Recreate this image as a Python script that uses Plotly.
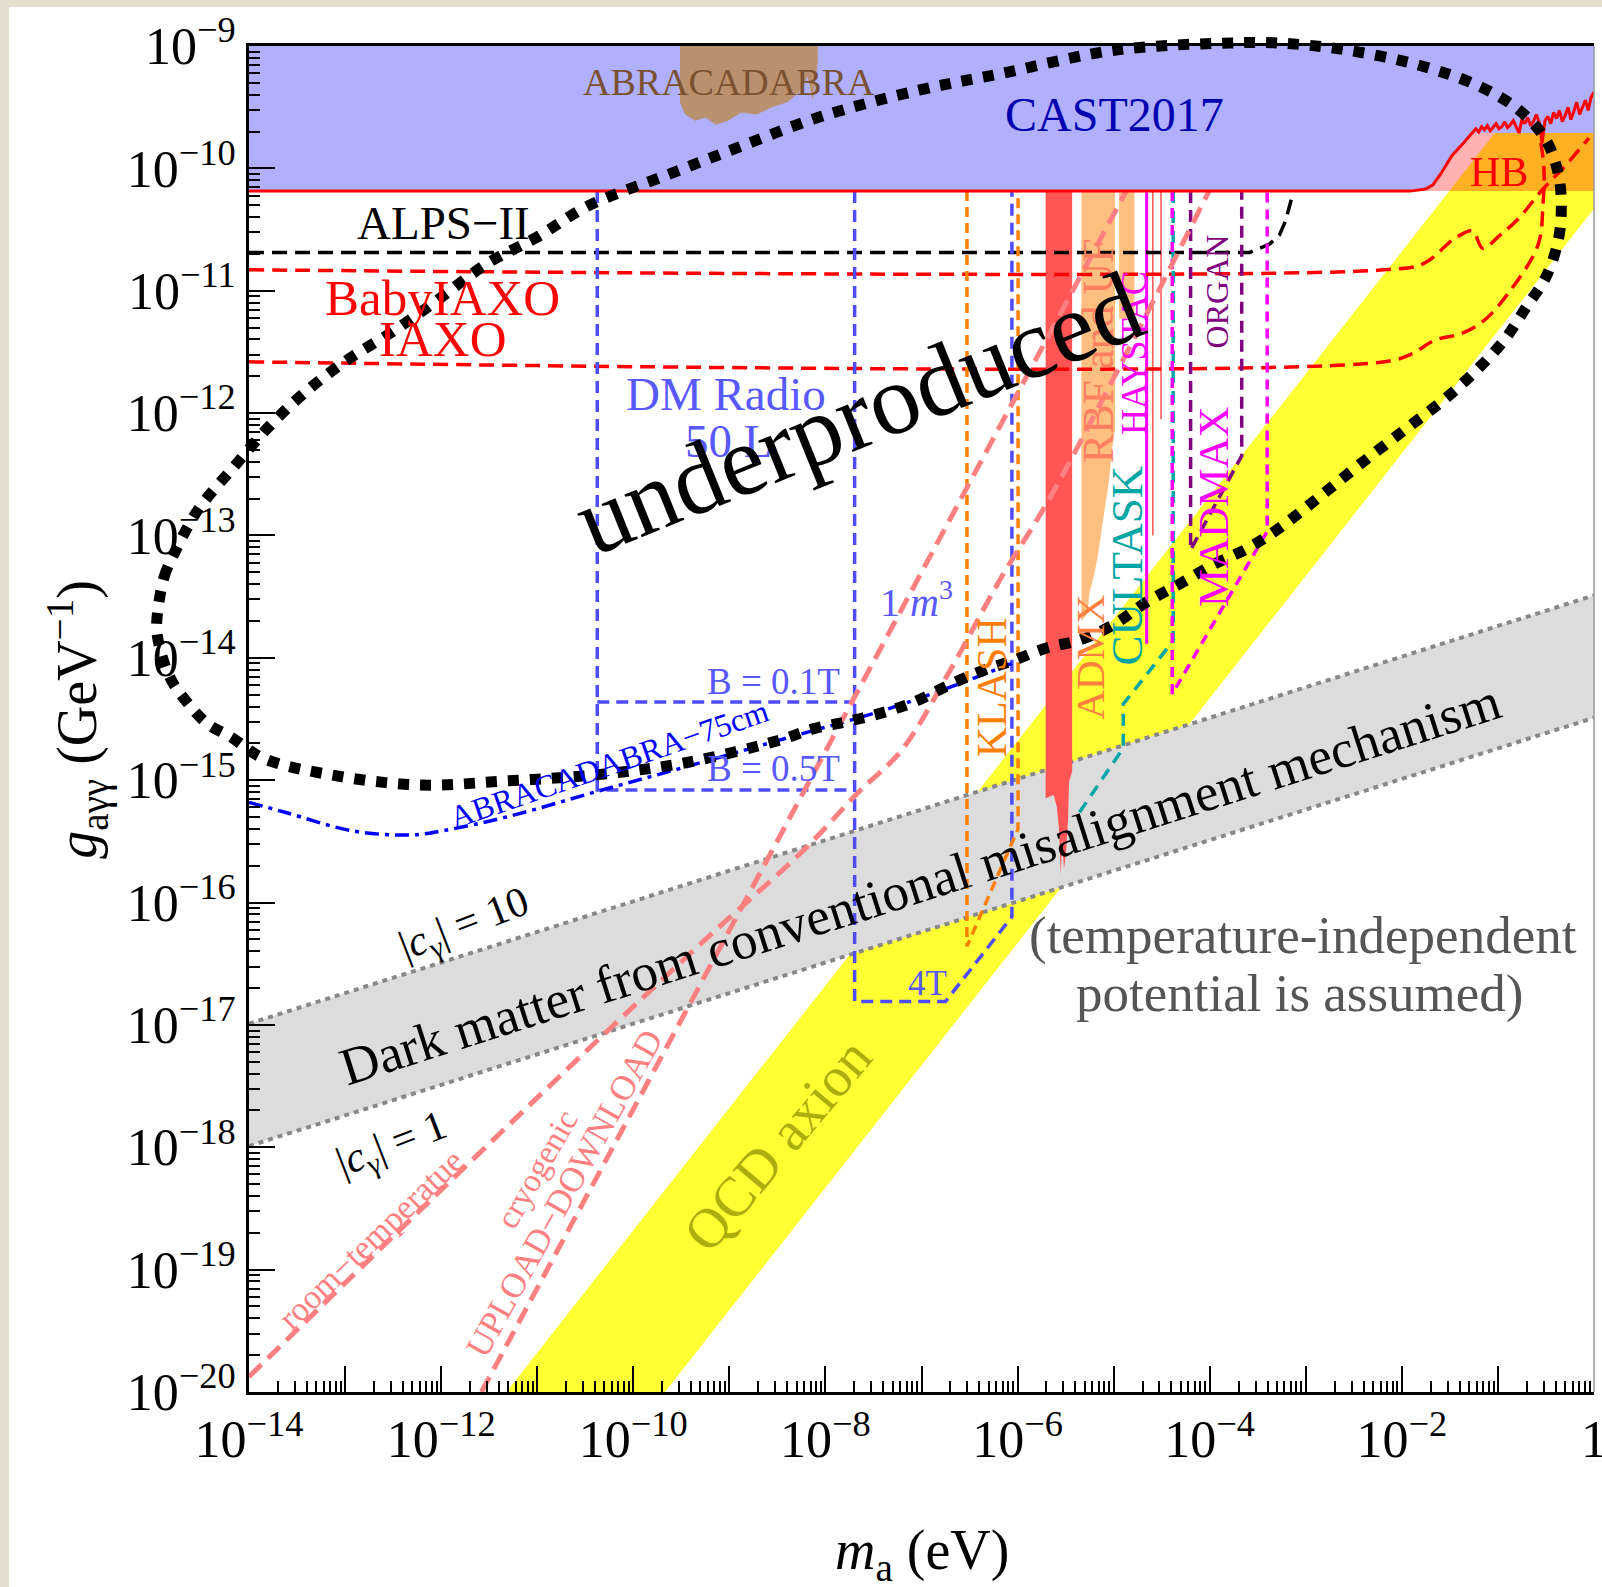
import plotly.graph_objects as go

FONT = "Liberation Serif, Times New Roman, serif"

# ---------------- data: log10(m_a / eV) and log10(g / GeV^-1) ----------------
qcd_logm = [-11.321, -0.321, 0.0, 0.0, -9.67]
qcd_logg = [-20.0, -9.0, -9.0, -10.33, -20.0]

hb_logm = [-14.0, 0.0, 0.0, -14.0]
hb_logg = [-10.186, -10.186, -9.71, -9.71]

cast_logm = [-14.0, -1.913, -1.754, -1.679, -1.594, -1.478, -1.361, -1.265]
cast_logg = [-10.186, -10.186, -10.169, -10.136, -10.044, -9.894, -9.794, -9.710]
cast_noise_logm = [-1.23, -1.20, -1.17, -1.14, -1.11, -1.08, -1.05, -1.02, -0.99, -0.96,
                   -0.93, -0.90, -0.87, -0.84, -0.81, -0.78, -0.75, -0.72, -0.69, -0.66,
                   -0.63, -0.60, -0.57, -0.54, -0.51, -0.48, -0.45, -0.42, -0.39, -0.36,
                   -0.33, -0.30, -0.27, -0.24, -0.21, -0.18, -0.15, -0.12, -0.09, -0.06,
                   -0.03, 0.0]
cast_noise_logg = [-9.677, -9.702, -9.660, -9.685, -9.651, -9.693, -9.668, -9.635, -9.677, -9.660,
                   -9.618, -9.668, -9.643, -9.610, -9.660, -9.710, -9.601, -9.635, -9.585, -9.651,
                   -9.618, -9.560, -9.626, -9.793, -9.610, -9.576, -9.635, -9.543, -9.593, -9.526,
                   -9.618, -9.568, -9.501, -9.601, -9.535, -9.459, -9.560, -9.493, -9.443, -9.526,
                   -9.418, -9.376]

abra_logm = [-9.514, -9.514, -9.461, -9.354, -9.248, -9.141, -9.014, -8.876, -8.717, -8.557,
             -8.398, -8.270, -8.185, -8.132, -8.079, -8.079]
abra_logg = [-9.0, -9.459, -9.560, -9.610, -9.585, -9.643, -9.610, -9.543, -9.560, -9.501,
             -9.459, -9.376, -9.251, -9.443, -9.125, -9.0]

dm_logm = [-14.0, 0.0]
dm_logg_c10 = [-16.99, -13.49]
dm_logg_c1 = [-17.99, -14.49]

alps_logm = [-14.0, -3.582, -3.380, -3.274, -3.210, -3.136]
alps_logg = [-10.687, -10.687, -10.620, -10.545, -10.428, -10.211]

babyiaxo_logm = [-14.0, -2.179, -1.775, -1.445, -1.265, -1.158, -0.978, -0.797, -0.531, -0.297, -0.053]
babyiaxo_logg = [-10.829, -10.829, -10.779, -10.570, -10.512, -10.654, -10.545, -10.420, -10.169, -9.977, -9.752]

iaxo_logm = [-14.0, -2.179, -1.892, -1.658, -1.371, -1.137, -0.893, -0.584, -0.531, -0.521, -0.553]
iaxo_logg = [-11.581, -11.581, -11.514, -11.405, -11.347, -11.238, -11.021, -10.629, -10.295, -10.002, -9.793]

dmr50_logm = [-10.375, -10.375, -7.696, None, -10.375, -7.696]
dmr50_logg = [-10.186, -15.080, -15.080, None, -14.362, -14.362]
dmr1_logm = [-7.696, -7.696, -6.750, -6.059, -6.059]
dmr1_logg = [-10.186, -16.809, -16.809, -16.116, -10.186]

abra75_logm = [-14.0, -13.617, -12.926, -12.320, -11.991, -11.300, -10.364, -9.440, -8.472, -7.228, -6.059]
abra75_logg = [-15.181, -15.264, -15.414, -15.448, -15.414, -15.297, -15.089, -14.888, -14.671, -14.387, -14.045]

klash_logm = [-6.527, -6.527, -5.995, -5.995]
klash_logg = [-10.186, -16.358, -15.398, -10.186]

admx_logm = [-5.708, -5.432, -5.432, -5.464, -5.474, -5.496, -5.517, -5.538, -5.549, -5.570, -5.591, -5.623, -5.708]
admx_logg = [-10.186, -10.186, -14.930, -15.014, -15.306, -15.598, -15.724, -15.473, -15.774, -15.389, -15.222, -15.122, -15.147]

rbf_logm = [-5.336, -4.986, -4.986, -5.017, -5.049, -5.081, -5.124, -5.166, -5.209, -5.251, -5.272, -5.336]
rbf_logg = [-10.186, -10.186, -12.132, -12.299, -12.550, -12.717, -12.967, -13.176, -13.343, -13.468, -13.635, -13.702]
rbf2_logm = [-4.943, -4.783, -4.783, -4.943]
rbf2_logg = [-10.186, -10.186, -11.230, -11.230]

haystac_logm = [-4.656, -4.656]
haystac_logg = [-10.186, -13.886]
haystac_red_logm = [-4.592, -4.592, None, -4.507, -4.507]
haystac_red_logg = [-10.186, -13.0, None, -10.186, -12.049]

cultask_logm = [-4.380, -4.380, -4.900, -4.900, -5.400]
cultask_logg = [-10.186, -13.861, -14.379, -14.738, -15.314]

madmax_logm = [-4.390, -4.390, -3.402, -3.402]
madmax_logg = [-10.186, -14.295, -12.967, -10.186]

organ_logm = [-4.199, -4.199, -3.667, -3.667]
organ_logg = [-10.186, -13.118, -12.349, -10.186]

cryo_logm = [-11.58, -4.87]
cryo_logg = [-20.0, -10.186]

room_logm = [-14.0, -12.118, -10.237, -9.142, -8.228, -7.654, -7.207, -6.697, -6.176, -5.687, -4.890, -4.007]
room_logg = [-19.875, -18.438, -17.026, -16.225, -15.573, -15.097, -14.755, -14.095, -13.352, -12.725, -11.547, -10.186]

under_logm = [-14.957, -14.882, -14.776, -14.532, -14.159, -13.798, -13.394, -12.958, -12.480, -12.044,
              -11.523, -11.002, -10.481, -9.673, -8.929, -8.079, -7.016, -6.176, -4.975, -3.774,
              -3.295, -2.572, -1.775, -1.180, -0.776, -0.500, -0.372, -0.340, -0.372, -0.500,
              -0.702, -0.935, -1.254, -1.573, -1.977, -2.445, -2.870, -3.295, -3.614, -3.954,
              -4.305, -4.656, -4.996, -5.347, -5.698, -6.038, -6.389, -6.729, -7.080, -7.430,
              -7.771, -8.121, -8.472, -9.440, -10.375, -11.300, -12.225, -13.160, -13.851, -14.191,
              -14.436, -14.638, -14.787, -14.882, -14.957, -14.957]
under_logg = [-13.669, -13.335, -13.143, -12.792, -12.441, -12.115, -11.815, -11.556, -11.322, -11.080,
              -10.779, -10.562, -10.311, -10.061, -9.835, -9.585, -9.359, -9.226, -9.033, -8.975,
              -8.975, -9.033, -9.167, -9.334, -9.526, -9.768, -10.044, -10.311, -10.587, -10.888,
              -11.130, -11.405, -11.673, -11.898, -12.140, -12.424, -12.692, -12.951, -13.109, -13.235,
              -13.393, -13.544, -13.727, -13.853, -13.919, -14.020, -14.112, -14.228, -14.362, -14.454,
              -14.521, -14.579, -14.671, -14.855, -14.955, -15.005, -15.039, -14.955, -14.821, -14.646,
              -14.537, -14.370, -14.212, -14.045, -13.803, -13.669]

x_decades = list(range(-14, 1))
y_decades = list(range(-20, -8))


def V(logs):
    return [None if v is None else 10.0 ** v for v in logs]


# ---------------- layout geometry ----------------
W, H = 1602, 1587
ML, MR, MT, MB = 140, 8, 20, 195
PLOT_L, PLOT_R, PLOT_T, PLOT_B = 249, 1594, 46, 1392
PW = W - ML - MR
PH = H - MT - MB
x_dom0 = (PLOT_L - ML) / PW
y_dom1 = (PLOT_B - PLOT_T) / PH
px_per_dec_x = (PLOT_R - PLOT_L) / 14.0
px_per_dec_y = (PLOT_B - PLOT_T) / 11.0
x2_lo = -14.0 - (PLOT_L - ML) / px_per_dec_x
y2_hi = -9.0 + (PLOT_T - MT) / px_per_dec_y

fig = go.Figure()


def fill(lm, lg, color, line_color=None, lw=0):
    fig.add_trace(go.Scatter(x=V(lm), y=V(lg), mode="lines", fill="toself", fillcolor=color,
                             line=dict(color=line_color or color, width=lw), hoverinfo="skip"))


def line(lm, lg, color, width=3, dash="solid", shape="linear", xa="x", ya="y"):
    fig.add_trace(go.Scatter(x=V(lm), y=V(lg), mode="lines", xaxis=xa, yaxis=ya,
                             line=dict(color=color, width=width, dash=dash, shape=shape),
                             hoverinfo="skip", connectgaps=False))


# QCD band
fill(qcd_logm, qcd_logg, "#FFFF33")
# HB (translucent red)
fill(hb_logm, hb_logg, "rgba(255,0,0,0.31)")
# CAST
fill(cast_logm + [0.0, 0.0, -14.0], cast_logg + [-9.71, -9.0, -9.0], "#B0B0FF")
# ABRACADABRA
fill(abra_logm, abra_logg, "#B9916F")
# DM misalignment band
fill(dm_logm + dm_logm[::-1], dm_logg_c10 + dm_logg_c1[::-1], "#DCDCDC")
line(dm_logm, dm_logg_c10, "#888888", 4, "5px,5px")
line(dm_logm, dm_logg_c1, "#888888", 4, "5px,5px")
# haloscopes
fill(admx_logm, admx_logg, "#FF5555")
fill(rbf_logm, rbf_logg, "#FFBF80")
fill(rbf2_logm, rbf2_logg, "#FFBF80")
line(haystac_logm, haystac_logg, "#FF00FF", 3)
line(haystac_red_logm, haystac_red_logg, "#FF5050", 1.5)
# dashed projections
line(alps_logm, alps_logg, "black", 3.5, "15px,8px")
line(babyiaxo_logm, babyiaxo_logg, "#FF0000", 3.5, "15px,8px", "spline")
line(iaxo_logm, iaxo_logg, "#FF0000", 3.5, "15px,8px", "spline")
line(dmr50_logm, dmr50_logg, "#4D4DFF", 3.5, "12px,7px")
line(dmr1_logm, dmr1_logg, "#4D4DFF", 3.5, "12px,7px")
line(abra75_logm, abra75_logg, "#0000FF", 3.5, "14px,6px,4px,6px", "spline")
line(klash_logm, klash_logg, "#FF8000", 3.5, "10px,6px")
line(cultask_logm, cultask_logg, "#00A6A6", 3.5, "12px,8px")
line(madmax_logm, madmax_logg, "#FF00FF", 3.5, "10px,7px")
line(organ_logm, organ_logg, "#800080", 3.5, "12px,7px")
line(room_logm, room_logg, "#FF8080", 5, "17px,9px", "spline")
line(cryo_logm, cryo_logg, "#FF8080", 5, "17px,9px")
# CAST limit line
line(cast_logm + cast_noise_logm, cast_logg + cast_noise_logg, "#FF0000", 3)
# underproduced boundary (on overlay axes so it can leave the frame)
line(under_logm, under_logg, "black", 11, "11px,11px", "spline", xa="x2", ya="y2")


def ann(text, lm, lg, size, color, angle=0):
    return dict(text=text, x=lm, y=lg, xref="x", yref="y", showarrow=False, textangle=angle,
                font=dict(family=FONT, size=size, color=color), xanchor="center", yanchor="middle")


annotations = [
    ann("ABRACADABRA", -9.004, -9.292, 38, "#7A5232"),
    ann("CAST2017", -4.996, -9.560, 48, "#0000B0"),
    ann("HB", -0.988, -10.027, 42, "#FF0000"),
    ann("ALPS−II", -11.980, -10.445, 47, "black"),
    ann("BabyIAXO", -11.991, -11.063, 51, "#FF0000"),
    ann("IAXO", -11.991, -11.397, 51, "#FF0000"),
    ann("DM Radio", -9.036, -11.840, 47, "#5858FF"),
    ann("50 L", -9.014, -12.232, 47, "#5858FF"),
    ann("1 <i>m</i><sup>3</sup>", -7.048, -13.527, 40, "#5858FF"),
    ann("B = 0.1T", -8.536, -14.195, 37, "#5858FF"),
    ann("B = 0.5T", -8.536, -14.905, 37, "#5858FF"),
    ann("4T", -6.941, -16.659, 35, "#5858FF"),
    ann("ABRACADABRA−75cm", -10.250, -14.870, 32, "#0000FF", -19),
    ann("KLASH", -6.272, -14.237, 42, "#FF8000", -90),
    ann("ADMX", -5.241, -13.995, 41, "#FF7F3F", -90),
    ann("RBF and UF", -5.156, -11.489, 44, "#FF8060", -90),
    ann("HAYSTAC", -4.794, -11.506, 36, "#FF00FF", -90),
    ann("CULTASK", -4.858, -13.243, 45, "#00A6A6", -90),
    ann("ORGAN", -3.922, -11.004, 32, "#800080", -90),
    ann("MADMAX", -3.954, -12.767, 43, "#FF00FF", -90),
    ann("underproduced", -7.654, -12.007, 100, "black", -22),
    ann("Dark matter from conventional misalignment mechanism", -7.016, -15.849, 53, "black", -17.7),
    ann("|<i>c</i><sub>γ</sub>| = 10", -11.757, -16.191, 42, "black", -21),
    ann("|<i>c</i><sub>γ</sub>| = 1", -12.512, -17.987, 42, "black", -21),
    ann("(temperature-independent", -3.029, -16.266, 53, "#555555"),
    ann("potential is assumed)", -3.061, -16.742, 53, "#555555"),
    ann("QCD axion", -8.504, -17.979, 56, "#ADAD10", -50),
    ann("room−temperatue", -12.735, -18.755, 34, "#FF8080", -44),
    ann("cryogenic", -11.002, -18.179, 33, "#FF8080", -60),
    ann("UPLOAD−DOWNLOAD", -10.715, -18.380, 35, "#FF8080", -61),
    dict(text="<i>m</i><sub>a</sub> (eV)", x=0.5, y=-0.12, xref="x domain", yref="y domain",
         showarrow=False, font=dict(family=FONT, size=56, color="black"),
         xanchor="center", yanchor="middle"),
    dict(text="<i>g</i><sub>aγγ</sub> (GeV<sup>−1</sup>)", x=-0.128, y=0.5, xref="x domain",
         yref="y domain", showarrow=False, textangle=-90,
         font=dict(family=FONT, size=56, color="black"), xanchor="center", yanchor="middle"),
]


def sup(n):
    return "1" if n == 0 else "10<sup>−%d</sup>" % (-n)


x_ticktext = [sup(n) if n % 2 == 0 else "" for n in x_decades]
y_ticktext = [sup(n) for n in y_decades]
x_minor = [k * 10.0 ** n for n in x_decades[:-1] for k in range(2, 10)]
y_minor = [k * 10.0 ** n for n in y_decades[:-1] for k in range(2, 10)]

axis_common = dict(type="log", showgrid=False, zeroline=False, showline=True, linecolor="black",
                   linewidth=3, ticks="inside", ticklen=26, tickwidth=2, tickcolor="black",
                   tickfont=dict(family=FONT, size=52, color="black"), automargin=False)

beige = "#E3DECD"
y_bottom_paper = -MB / PH
y_top_paper = (H - MB) / PH
shapes = [
    dict(type="rect", xref="paper", yref="paper", x0=-ML / PW, x1=(9 - ML) / PW,
         y0=y_bottom_paper, y1=y_top_paper, fillcolor=beige, line=dict(width=0), layer="below"),
    dict(type="rect", xref="paper", yref="paper", x0=-ML / PW, x1=(W - ML) / PW,
         y0=(H - MB - 7) / PH, y1=y_top_paper, fillcolor=beige, line=dict(width=0), layer="below"),
    dict(type="line", xref="x domain", yref="y domain", x0=1, x1=1, y0=0, y1=1,
         line=dict(color="#999999", width=1.5)),
]

fig.update_layout(
    width=W, height=H,
    margin=dict(l=ML, r=MR, t=MT, b=MB),
    paper_bgcolor="white", plot_bgcolor="rgba(0,0,0,0)",
    showlegend=False, hovermode=False,
    font=dict(family=FONT),
    xaxis=dict(axis_common, range=[-14, 0], domain=[x_dom0, 1], anchor="y", mirror=True,
               ticklabeloverflow="allow",
               tickvals=[10.0 ** n for n in x_decades], ticktext=x_ticktext,
               minor=dict(ticks="inside", ticklen=11, tickwidth=1.5, tickcolor="black", tickvals=x_minor)),
    yaxis=dict(axis_common, range=[-20, -9], domain=[0, y_dom1], anchor="x", mirror=False,
               ticklabeloverflow="allow",
               tickvals=[10.0 ** n for n in y_decades], ticktext=y_ticktext,
               minor=dict(ticks="inside", ticklen=11, tickwidth=1.5, tickcolor="black", tickvals=y_minor)),
    xaxis2=dict(type="log", range=[x2_lo, 0], domain=[0, 1], anchor="y2", visible=False),
    yaxis2=dict(type="log", range=[-20, y2_hi], domain=[0, 1], anchor="x2", visible=False),
    annotations=annotations,
    shapes=shapes,
)

fig.write_html("out.html")
